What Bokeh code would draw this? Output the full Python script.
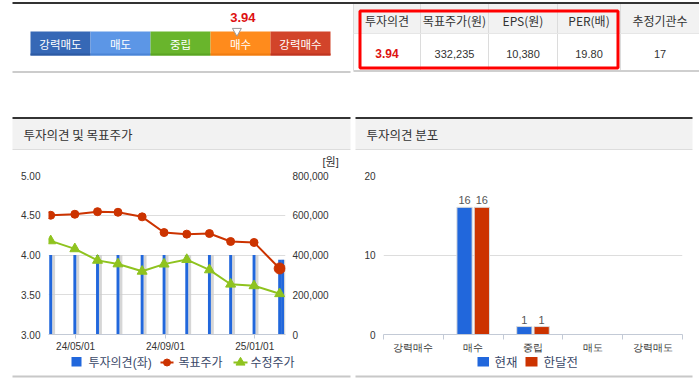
from datetime import datetime
from bokeh.plotting import figure
from bokeh.models import (Range1d, LinearAxis, FixedTicker, NumeralTickFormatter,
                          ColumnDataSource)
from bokeh.layouts import column, row
from bokeh.core.properties import value
from bokeh.transform import dodge
from bokeh.embed import file_html
from bokeh.resources import INLINE

# ---------------- data ----------------
gauge_labels = ["강력매도", "매도", "중립", "매수", "강력매수"]
consensus_score = 3.94

table_headers = ["투자의견", "목표주가(원)", "EPS(원)", "PER(배)", "추정기관수"]
table_values = ["3.94", "332,235", "10,380", "19.80", "17"]

line_dates = ["2024-03-28", "2024-04-30", "2024-05-31", "2024-06-28", "2024-07-31",
              "2024-08-30", "2024-09-30", "2024-10-31", "2024-11-29", "2024-12-31",
              "2025-02-04"]
target_price = [600000, 605000, 618000, 615000, 592000, 513000, 505000, 508000,
                468000, 463000, 332235]
adjusted_price = [471000, 431000, 373000, 355000, 318000, 354000, 377000, 325000,
                  253000, 245000, 205000]

opinion_dates = line_dates + ["2025-02-08"]
opinion_score = [4.0, 4.0, 4.0, 4.0, 4.0, 4.0, 4.0, 4.0, 4.0, 4.0, 3.94, 3.94]

left_ticks = [3.0, 3.5, 4.0, 4.5, 5.0]
right_ticks = [0, 200000, 400000, 600000, 800000]
date_ticks = ["2024-05-01", "2024-09-01", "2025-01-01"]
date_tick_labels = ["24/05/01", "24/09/01", "25/01/01"]
left_legend_labels = ["투자의견(좌)", "목표주가", "수정주가"]
price_unit = "[원]"

dist_categories = ["강력매수", "매수", "중립", "매도", "강력매도"]
dist_current = [0, 16, 1, 0, 0]
dist_month_ago = [0, 16, 1, 0, 0]
dist_ticks = [0, 10, 20]
right_legend_labels = ["현재", "한달전"]

# ---------------- styles ----------------
KR = "Noto Sans CJK KR"
NUM = "Liberation Sans"
MIX = "Liberation Sans, Noto Sans CJK KR"
BLUE = "#2167dc"
RED = "#cc3300"
GREEN = "#8fc31f"
gauge_colors = ["#3668b6", "#5c96e6", "#69b52c", "#ff8b1c", "#d2442a"]
gauge_dark = ["#2c5aa3", "#4a84d6", "#5aa422", "#f07c10", "#bf3520"]
LEG_TXT = "#3a4868"


def dt(s):
    return datetime.strptime(s, "%Y-%m-%d")


def deco(width, height, x0, y0):
    p = figure(width=width, height=height, x_range=Range1d(x0, x0 + width),
               y_range=Range1d(y0 + height, y0), output_backend="svg",
               toolbar_location=None, min_border=0, title=None,
               x_axis_location=None, y_axis_location=None)
    p.grid.visible = False
    p.outline_line_color = None
    p.background_fill_color = "white"
    p.border_fill_color = "white"
    return p


TY1 = 169     # bottom of the header strip (charts start here)
CY1 = 355     # bottom of charts (legend strip starts here)

# ---------------- header strip: gauge + table + panel titles ----------------
top = deco(699, TY1, 0, 0)
top.quad(left=12, right=699, top=1.5, bottom=3.5, fill_color="#333333", line_color=None)
seg_w, g_left, g_top, g_bot = 60, 30, 31, 55
n = len(gauge_labels)
lefts = [g_left + i * seg_w for i in range(n)]
rights = [l + seg_w for l in lefts]
centers = [l + seg_w / 2 for l in lefts]
top.quad(left=lefts, right=rights, top=g_top, bottom=g_bot,
         fill_color=gauge_colors, line_color=None)
top.quad(left=lefts, right=rights, top=g_bot - 2, bottom=g_bot,
         fill_color=gauge_dark, line_color=None)
top.text(x=centers, y=[(g_top + g_bot) / 2] * n, text=gauge_labels,
         text_color="white", text_font=value(KR), text_font_size="11.5px",
         text_align="center", text_baseline="middle")
mx = g_left + (consensus_score - 0.5) * seg_w
top.scatter(x=[mx], y=[g_top - 0.5], marker="inverted_triangle", size=9,
            fill_color="white", line_color="#999999", line_width=1)
top.text(x=[mx + 6], y=[17], text=[f"{consensus_score:.2f}"], text_color="#dd1111",
         text_font=value(NUM), text_font_style="bold",
         text_font_size="13px", text_align="center", text_baseline="middle")
top.quad(left=12, right=350, top=70.5, bottom=72.5, fill_color="#cccccc", line_color=None)

edges = [353, 420, 488, 557, 620, 699]
ccent = [(edges[i] + edges[i + 1]) / 2 for i in range(len(table_headers))]
top.quad(left=edges[0], right=edges[-1], top=3.5, bottom=33, fill_color="#f2f2f2", line_color=None)
top.segment(x0=edges[:-1], y0=3.5, x1=edges[:-1], y1=70, line_color="#dcdcdc", line_width=1)
top.segment(x0=edges[0], y0=33, x1=edges[-1], y1=33, line_color="#e6e6e6", line_width=1)
top.quad(left=edges[0], right=edges[-1], top=69.5, bottom=71.5, fill_color="#cfcfcf", line_color=None)
top.text(x=ccent, y=[20] * len(ccent), text=table_headers, text_color="#333333",
         text_font=value(KR), text_font_size="12px", text_align="center", text_baseline="middle")
top.text(x=ccent[:1], y=[53], text=table_values[:1], text_color="#dd1111",
         text_font=value(NUM), text_font_style="bold", text_font_size="12px",
         text_align="center", text_baseline="middle")
top.text(x=ccent[1:], y=[53] * (len(ccent) - 1), text=table_values[1:], text_color="#333333",
         text_font=value(NUM), text_font_size="11px", text_align="center", text_baseline="middle")
top.quad(left=edges[0] + 6.5, right=edges[4] - 2.5, top=10.5, bottom=67.5,
         fill_color=None, line_color="#ff0000", line_width=3)

# panel title bars
bar_l = [12, 355]
bar_r = [350, 692]
titles = ["투자의견 및 목표주가", "투자의견 분포"]
top.quad(left=bar_l, right=bar_r, top=116.5, bottom=118.5, fill_color="#333333", line_color=None)
top.quad(left=bar_l, right=bar_r, top=118.5, bottom=148.5, fill_color="#f2f2f2", line_color=None)
top.quad(left=bar_l, right=bar_r, top=148.5, bottom=149.5, fill_color="#dddddd", line_color=None)
top.text(x=[b + 11 for b in bar_l], y=[134, 134], text=titles, text_color="#333333",
         text_font=value(KR), text_font_size="12.5px", text_align="left", text_baseline="middle")
top.text(x=[322], y=[161.5], text=[price_unit], text_color="#333333", text_font=value(MIX),
         text_font_size="11px", text_align="left", text_baseline="middle")

# ---------------- left chart ----------------
lc = figure(width=350, height=CY1 - TY1, x_axis_type="datetime", title=None,
            x_range=Range1d(dt("2024-03-25"), dt("2025-02-12")),
            y_range=Range1d(3, 5), output_backend="svg", toolbar_location=None,
            min_border_left=48, min_border_right=65, min_border_top=175 - TY1,
            min_border_bottom=CY1 - 335)
lc.outline_line_color = None
lc.extra_y_ranges = {"price": Range1d(0, 800000)}
lc.xgrid.visible = False
lc.ygrid.grid_line_color = "#dddddd"
lc.ygrid.ticker = FixedTicker(ticks=left_ticks)

ly = lc.yaxis[0]
ly.ticker = FixedTicker(ticks=left_ticks)
ly.formatter = NumeralTickFormatter(format="0.00")
ry = LinearAxis(y_range_name="price", ticker=FixedTicker(ticks=right_ticks),
                formatter=NumeralTickFormatter(format="0,0"))
lc.add_layout(ry, "right")
for ax in (ly, ry):
    ax.axis_line_color = None
    ax.major_tick_line_color = None
    ax.major_tick_out = 0
    ax.major_tick_in = 0
    ax.minor_tick_line_color = None
    ax.minor_tick_out = 0
    ax.major_label_text_font = NUM
    ax.major_label_text_font_size = "10px"
    ax.major_label_text_color = "#333333"
    ax.major_label_standoff = 8
ry.major_label_standoff = 7

xa = lc.xaxis[0]
tick_ms = [dt(d).timestamp() * 1000 for d in date_ticks]
xa.ticker = FixedTicker(ticks=tick_ms)
xa.major_label_overrides = {t: l for t, l in zip(tick_ms, date_tick_labels)}
xa.axis_line_color = "#c3cad6"
xa.major_tick_line_color = "#c3cad6"
xa.major_tick_out = 4
xa.major_tick_in = 0
xa.minor_tick_line_color = None
xa.minor_tick_out = 0
xa.major_label_text_font = NUM
xa.major_label_text_font_size = "10px"
xa.major_label_text_color = "#333333"
xa.major_label_standoff = 2

DAY = 86400000
bar_src = ColumnDataSource(dict(x=[dt(d) for d in opinion_dates], top=opinion_score))
lc.vbar(x=dodge("x", 4 * DAY), top="top", bottom=lc.y_range.start, width=4 * DAY,
        source=bar_src, fill_color="#cccccc", fill_alpha=0.8, line_color=None)
lc.vbar(x="x", top="top", bottom=lc.y_range.start, width=4 * DAY,
        source=bar_src, fill_color=BLUE, line_color=None)

ls = ColumnDataSource(dict(x=[dt(d) for d in line_dates], tp=target_price, ap=adjusted_price))
lc.line("x", "tp", source=ls, y_range_name="price", line_color=RED, line_width=2)
lc.scatter("x", "tp", source=ls, y_range_name="price", marker="circle", size=8,
           fill_color=RED, line_color=RED)
lc.scatter([dt(line_dates[-1])], [target_price[-1]], y_range_name="price", marker="circle",
           size=11, fill_color=RED, line_color=RED)
lc.line("x", "ap", source=ls, y_range_name="price", line_color=GREEN, line_width=2)
lc.scatter("x", "ap", source=ls, y_range_name="price", marker="triangle", size=10,
           fill_color=GREEN, line_color=GREEN)

# ---------------- right chart ----------------
ncat = len(dist_categories)
rc = figure(width=349, height=CY1 - TY1, x_range=Range1d(0, ncat), y_range=Range1d(0, 20),
            output_backend="svg", toolbar_location=None, title=None,
            min_border_left=33, min_border_right=17, min_border_top=175 - TY1,
            min_border_bottom=CY1 - 335)
rc.outline_line_color = None
rc.xgrid.visible = False
rc.ygrid.grid_line_color = "#dddddd"
rc.ygrid.ticker = FixedTicker(ticks=dist_ticks)

cx = [i + 0.5 for i in range(ncat)]
ry2 = rc.yaxis[0]
ry2.ticker = FixedTicker(ticks=dist_ticks)
ry2.axis_line_color = None
ry2.major_tick_line_color = None
ry2.major_tick_out = 0
ry2.major_tick_in = 0
ry2.minor_tick_line_color = None
ry2.minor_tick_out = 0
ry2.major_label_text_font = NUM
ry2.major_label_text_font_size = "10px"
ry2.major_label_text_color = "#333333"
ry2.major_label_standoff = 8

rx = rc.xaxis[0]
rx.ticker = FixedTicker(ticks=cx, minor_ticks=list(range(ncat + 1)))
rx.major_label_overrides = {c: lab for c, lab in zip(cx, dist_categories)}
rx.axis_line_color = "#c3cad6"
rx.major_tick_line_color = None
rx.major_tick_out = 4
rx.major_tick_in = 0
rx.minor_tick_line_color = "#c3cad6"
rx.minor_tick_out = 5
rx.minor_tick_in = 0
rx.major_label_text_font = NUM
rx.major_label_text_font_size = "10px"
rx.major_label_text_color = "#333333"
rx.major_label_standoff = 2

dsrc = ColumnDataSource(dict(
    x=[c for c, v in zip(cx, dist_current) if v > 0],
    now=[v for v in dist_current if v > 0],
    now_lbl=[str(v) for v in dist_current if v > 0]))
psrc = ColumnDataSource(dict(
    x=[c for c, v in zip(cx, dist_month_ago) if v > 0],
    prev=[v for v in dist_month_ago if v > 0],
    prev_lbl=[str(v) for v in dist_month_ago if v > 0]))
OFF, BW = 0.145, 0.255
rc.vbar(x=dodge("x", -OFF), top="now", width=BW, source=dsrc,
        fill_color=BLUE, line_color="#dcdcdc", line_width=1)
rc.vbar(x=dodge("x", OFF), top="prev", width=BW, source=psrc,
        fill_color=RED, line_color="#dcdcdc", line_width=1)
rc.text(x=dodge("x", -OFF), y="now", text="now_lbl", source=dsrc, y_offset=-3,
        text_font=value(NUM), text_font_size="11px", text_color="#555555",
        text_align="center", text_baseline="bottom")
rc.text(x=dodge("x", OFF), y="prev", text="prev_lbl", source=psrc, y_offset=-3,
        text_font=value(NUM), text_font_size="11px", text_color="#555555",
        text_align="center", text_baseline="bottom")

# ---------------- legend strip ----------------
bot = deco(699, 382 - CY1, 0, CY1)
LY = 362
bot.quad(left=[71, 477, 525], right=[81, 488.5, 537], top=356.5, bottom=366,
         fill_color=[BLUE, BLUE, RED], line_color=None)
bot.segment(x0=[160, 233], y0=[LY, LY], x1=[173, 247], y1=[LY, LY],
            line_color=[RED, GREEN], line_width=2)
bot.scatter(x=[166.5], y=[LY], marker="circle", size=7, fill_color=RED, line_color=RED)
bot.scatter(x=[240], y=[LY], marker="triangle", size=9, fill_color=GREEN, line_color=GREEN)
bot.text(x=[88, 178, 250], y=[LY] * 3, text=left_legend_labels, text_color=LEG_TXT,
         text_font=value(MIX), text_font_size="12px", text_align="left", text_baseline="middle")
bot.text(x=[494, 543], y=[LY] * 2, text=right_legend_labels, text_color=LEG_TXT,
         text_font=value(MIX), text_font_size="12.5px", text_align="left", text_baseline="middle")
bot.quad(left=[12, 355], right=[350, 692], top=375, bottom=377, fill_color="#c8c8c8", line_color=None)

layout = column(top, row(lc, rc), bot)

open("out.html", "w").write(file_html(layout, INLINE))
